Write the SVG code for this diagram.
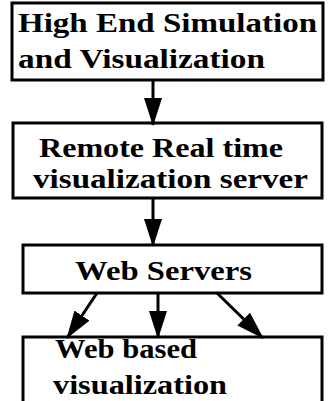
<svg xmlns="http://www.w3.org/2000/svg" width="329" height="401" viewBox="0 0 329 401">
<style>
.box{fill:#fff;stroke:#000;stroke-width:3}
.t{font-family:"Liberation Serif","Times New Roman",serif;font-weight:bold;font-size:28px;fill:#000}
.c{stroke:#000;stroke-width:3;fill:none}
</style>
<defs>
<marker id="ah" markerUnits="userSpaceOnUse" markerWidth="28" markerHeight="18" refX="27" refY="9" orient="auto">
<path d="M0,0 L28,9 L0,18 Z" fill="#000"/>
</marker>
</defs>
<rect width="329" height="401" fill="#fff"/>
<g id="n1">
<rect class="box" x="12" y="3" width="311" height="77"/>
<text class="t" x="18" y="32" textLength="299" lengthAdjust="spacingAndGlyphs">High End Simulation</text>
<text class="t" x="18" y="68" textLength="247" lengthAdjust="spacingAndGlyphs">and Visualization</text>
</g>
<g id="n2">
<rect class="box" x="13" y="123" width="309" height="75"/>
<text class="t" x="39" y="157" textLength="244" lengthAdjust="spacingAndGlyphs">Remote Real time</text>
<text class="t" x="33" y="188" textLength="275" lengthAdjust="spacingAndGlyphs">visualization server</text>
</g>
<g id="n3">
<rect class="box" x="23" y="245" width="299" height="48"/>
<text class="t" x="75" y="280" textLength="177" lengthAdjust="spacingAndGlyphs">Web Servers</text>
</g>
<g id="n4">
<rect class="box" x="23" y="337" width="299" height="80"/>
<text class="t" x="55" y="358" textLength="142" lengthAdjust="spacingAndGlyphs">Web based</text>
<text class="t" x="53" y="394" textLength="174" lengthAdjust="spacingAndGlyphs">visualization</text>
</g>
<g id="connectors">
<line class="c" x1="153" y1="80" x2="153" y2="125" marker-end="url(#ah)"/>
<line class="c" x1="153" y1="198" x2="153" y2="246" marker-end="url(#ah)"/>
<line class="c" x1="97" y1="293" x2="67" y2="338" marker-end="url(#ah)"/>
<line class="c" x1="158" y1="293" x2="158" y2="338" marker-end="url(#ah)"/>
<line class="c" x1="217" y1="293" x2="263" y2="338" marker-end="url(#ah)"/>
</g>
</svg>
